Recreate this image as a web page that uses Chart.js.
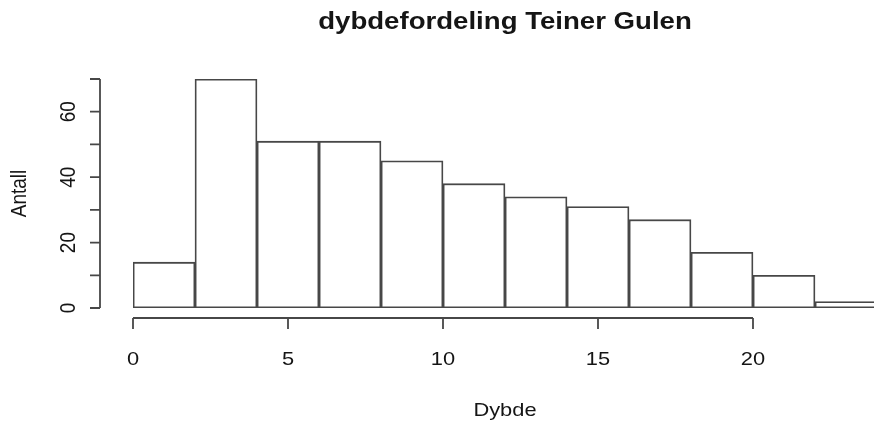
<!DOCTYPE html>
<html>
<head>
<meta charset="utf-8">
<script src="https://cdn.jsdelivr.net/npm/chart.js@4/dist/chart.umd.min.js"></script>
<style>
  html, body { margin: 0; padding: 0; background: #fff; overflow: hidden; }
  #wrap { position: relative; width: 880px; height: 423px; }
</style>
</head>
<body>
<div id="wrap"><canvas id="c"></canvas></div>
<script>
// ---- data ----
const binEdges = [0, 2, 4, 6, 8, 10, 12, 14, 16, 18, 20, 22, 24];
const counts = [14, 70, 51, 51, 45, 38, 34, 31, 27, 17, 10, 2];
const xTickValues = [0, 5, 10, 15, 20];
const yTickValues = [0, 10, 20, 30, 40, 50, 60, 70];
const yTickLabels = ['0', '', '20', '', '40', '', '60', ''];
const titleText = 'dybdefordeling Teiner Gulen';
const xTitle = 'Dybde';
const yTitle = 'Antall';

const barData = counts.map((c, i) => ({ x: (binEdges[i] + binEdges[i + 1]) / 2, y: c }));

const FONT = '"Liberation Sans", Arial, sans-serif';
const LINE = '#474747';
const SX = 1.15;   // horizontal stretch of the reference text
const TSX = 1.2;

function stretchedText(ctx, text, x, y, sx, rot) {
  ctx.save();
  ctx.translate(x, y);
  ctx.scale(sx, 1);
  if (rot) ctx.rotate(rot);
  ctx.fillText(text, 0, 0);
  ctx.restore();
}

const rAxes = {
  id: 'rAxes',
  afterDraw(chart) {
    const ctx = chart.ctx;
    const xs = chart.scales.x, ys = chart.scales.y;
    ctx.save();
    ctx.strokeStyle = LINE;
    ctx.lineWidth = 1.8;
    ctx.fillStyle = '#151515';

    // x axis (detached, below)
    const xAxisY = ys.getPixelForValue(0) + 10;
    const x0 = xs.getPixelForValue(xTickValues[0]);
    const x1 = xs.getPixelForValue(xTickValues[xTickValues.length - 1]);
    ctx.beginPath();
    ctx.moveTo(x0, xAxisY); ctx.lineTo(x1, xAxisY);
    xTickValues.forEach(v => {
      const px = xs.getPixelForValue(v);
      ctx.moveTo(px, xAxisY); ctx.lineTo(px, xAxisY + 11);
    });
    ctx.stroke();
    ctx.font = '19px ' + FONT;
    ctx.textAlign = 'center';
    ctx.textBaseline = 'middle';
    xTickValues.forEach(v => {
      stretchedText(ctx, String(v), xs.getPixelForValue(v), xAxisY + 42, SX, 0);
    });

    // y axis (detached, left)
    const yAxisX = xs.getPixelForValue(0) - 33;
    const yTop = ys.getPixelForValue(yTickValues[yTickValues.length - 1]);
    const yBot = ys.getPixelForValue(yTickValues[0]);
    ctx.beginPath();
    ctx.moveTo(yAxisX, yBot); ctx.lineTo(yAxisX, yTop);
    yTickValues.forEach(v => {
      const py = ys.getPixelForValue(v);
      ctx.moveTo(yAxisX, py); ctx.lineTo(yAxisX - 10, py);
    });
    ctx.stroke();
    yTickValues.forEach((v, i) => {
      if (!yTickLabels[i]) return;
      stretchedText(ctx, yTickLabels[i], yAxisX - 31, ys.getPixelForValue(v), SX, -Math.PI / 2);
    });

    // axis titles
    const midX = (xs.getPixelForValue(binEdges[0]) + xs.getPixelForValue(binEdges[binEdges.length - 1])) / 2;
    stretchedText(ctx, xTitle, midX, 411, SX, 0);
    stretchedText(ctx, yTitle, 20, (yTop + yBot) / 2, SX, -Math.PI / 2);

    // main title
    ctx.font = 'bold 23px ' + FONT;
    stretchedText(ctx, titleText, midX, 23, TSX, 0);
    ctx.restore();
  }
};

new Chart(document.getElementById('c'), {
  type: 'bar',
  data: {
    datasets: [{
      data: barData,
      backgroundColor: '#ffffff',
      borderColor: LINE,
      borderWidth: 1.8,
      borderSkipped: false,
      barPercentage: 1,
      categoryPercentage: 1
    }]
  },
  options: {
    responsive: true,
    maintainAspectRatio: false,
    animation: false,
    events: [],
    layout: { padding: { left: 133, right: 3, top: 79, bottom: 115 } },
    plugins: { legend: { display: false }, title: { display: false }, tooltip: { enabled: false } },
    scales: {
      x: {
        type: 'linear',
        display: false,
        offset: false,
        min: binEdges[0],
        max: binEdges[binEdges.length - 1],
        ticks: { stepSize: 2 }
      },
      y: {
        type: 'linear',
        display: false,
        min: 0,
        max: 70
      }
    }
  },
  plugins: [rAxes]
});
</script>
</body>
</html>
